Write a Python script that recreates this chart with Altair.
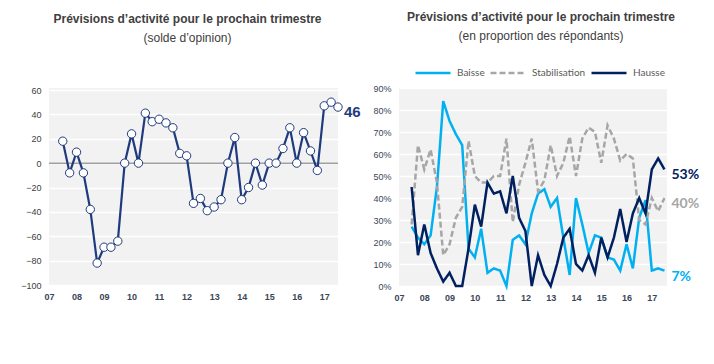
import altair as alt
import pandas as pd

# ---- data (quarterly, 2007 T3 -> 2017 T3) ----
solde = [18, -8, 9, -8, -38, -82, -69, -69, -64, 0,
         24, 0, 41, 34, 36, 33, 29, 8, 6, -33,
         -29, -39, -36, -30, 0, 21, -30, -20, 0, -18,
         0, 0, 12, 29, 0, 25, 10, -6, 47, 50, 46]
baisse = [27, 22, 19, 23, 45, 84, 75, 69, 64, 17,
          13, 26, 6, 8, 7, 0, 21, 23, 19, 33,
          42, 44, 36, 40, 22, 5, 40, 28, 15, 23,
          22, 13, 12, 7, 19, 8, 31, 39, 7, 8, 7]
stabilisation = [28, 64, 53, 62, 47, 14, 19, 31, 36, 66,
                 50, 47, 47, 50, 50, 67, 29, 46, 56, 67,
                 43, 48, 64, 50, 56, 68, 50, 67, 72, 70,
                 56, 73, 67, 57, 60, 58, 30, 28, 40, 34, 40]
hausse = [45, 14, 28, 15, 8, 2, 6, 0, 0, 17,
          37, 27, 47, 42, 43, 33, 50, 31, 25, 0,
          14, 5, 0, 10, 22, 26, 10, 7, 14, 6,
          22, 13, 22, 35, 20, 33, 40, 33, 53, 58, 53]
years = list(range(2007, 2018))
series_names = ["Baisse", "Stabilisation", "Hausse"]
series_colors = ["#00b0f0", "#a6a6a6", "#002060"]
periods = [2007.5 + 0.25 * i for i in range(len(solde))]

NAVY = "#1f3a7d"
TXT = "#404040"
AXT = "#3b4658"
FONT = "Liberation Sans"

# ---- left panel ----
df_left = pd.DataFrame({"t": periods, "v": solde})

xl = alt.X("t:Q", scale=alt.Scale(domain=[2007, 2017.5], nice=False, zero=False),
           axis=alt.Axis(values=years, labelExpr="substring(toString(datum.value), 2)",
                         title=None, grid=False, domain=False, ticks=False,
                         labelFontWeight="bold", labelColor=AXT, labelFontSize=9,
                         labelFont=FONT, labelPadding=7, labelFlush=False, labelOverlap=False))
yl = alt.Y("v:Q", scale=alt.Scale(domain=[-100, 60], nice=False, range=[197, 2]),
           axis=alt.Axis(values=list(range(-100, 61, 20)), title=None, grid=True,
                         gridColor="white", gridWidth=1.3, domain=False, ticks=False,
                         labelPadding=8, labelFontSize=9, labelColor=TXT, labelFont=FONT,
                         labelOverlap=False, labelFlush=False))

zero = alt.Chart(pd.DataFrame({"v": [0]})).mark_rule(color="#a0a0a0", strokeWidth=1.5).encode(y=yl)
line_left = alt.Chart(df_left).mark_line(
    color=NAVY, strokeWidth=2.2,
    point=alt.OverlayMarkDef(filled=True, fill="white", stroke=NAVY, strokeWidth=1, size=70, opacity=1)
).encode(x=xl, y=yl)
lab_left = alt.Chart(df_left.tail(1)).mark_text(
    align="left", baseline="middle", dx=6, dy=5, fontSize=15, fontWeight="bold",
    color=NAVY, font=FONT
).encode(x=xl, y=yl, text=alt.Text("v:Q"))

left = alt.layer(zero, line_left, lab_left).properties(
    width=289, height=197,
    title=alt.TitleParams(
        text="Prévisions d’activité pour le prochain trimestre",
        subtitle="(solde d’opinion)",
        font=FONT, subtitleFont=FONT, fontSize=12, subtitleFontSize=12,
        fontWeight="bold", color=TXT, subtitleColor=TXT,
        anchor="middle", dx=-6, offset=41, subtitlePadding=7))

# ---- right panel ----
rows = []
for name, vals in zip(series_names, [baisse, stabilisation, hausse]):
    for t, v in zip(periods, vals):
        rows.append({"t": t, "v": v, "serie": name})
df_right = pd.DataFrame(rows)

xr = alt.X("t:Q", scale=alt.Scale(domain=[2007, 2017.6], nice=False, zero=False),
           axis=alt.Axis(values=years, labelExpr="substring(toString(datum.value), 2)",
                         title=None, grid=False, domain=False, ticks=False,
                         labelFontWeight="bold", labelColor=AXT, labelFontSize=9,
                         labelFont=FONT, labelPadding=7, labelFlush=False, labelOverlap=False))
yr = alt.Y("v:Q", scale=alt.Scale(domain=[0, 90], nice=False),
           axis=alt.Axis(values=list(range(0, 91, 10)), labelExpr="datum.value + '%'",
                         title=None, grid=True, gridColor="white", gridWidth=1.3,
                         domain=False, ticks=False, labelPadding=8, labelFontSize=9,
                         labelColor=AXT, labelFont=FONT, labelOverlap=False, labelFlush=False))

legend = alt.Legend(orient="none", legendX=15, legendY=-34, direction="horizontal",
                    title=None, symbolType="stroke", symbolSize=1225, symbolStrokeWidth=2.5,
                    labelFont="Lato", labelFontSize=10, labelColor="#595959",
                    labelOffset=5, columnPadding=0, symbolOffset=0, symbolLimit=0)

lines_right = alt.Chart(df_right).mark_line(strokeWidth=2.5).encode(
    x=xr, y=yr,
    color=alt.Color("serie:N", scale=alt.Scale(domain=series_names, range=series_colors),
                    sort=series_names, legend=legend),
    strokeDash=alt.StrokeDash("serie:N", scale=alt.Scale(domain=series_names,
                              range=[[1, 0], [6, 3], [1, 0]]), sort=series_names, legend=legend),
    order=alt.Order("t:Q"),
)

end_labels = []
for name, col in zip(series_names, series_colors):
    d = df_right[df_right["serie"] == name].tail(1)
    end_labels.append(
        alt.Chart(d).transform_calculate(lab="datum.v + '%'").mark_text(
            align="left", baseline="middle", dx=7, dy=6, fontSize=14, fontWeight="bold",
            color=col, font="Lato"
        ).encode(x=xr, y=yr, text=alt.Text("lab:N"))
    )

right = alt.layer(lines_right, *end_labels).properties(
    width=268, height=198,
    title=alt.TitleParams(
        text="Prévisions d’activité pour le prochain trimestre",
        subtitle="(en proportion des répondants)",
        font=FONT, subtitleFont=FONT, fontSize=12, subtitleFontSize=12,
        fontWeight="bold", color=TXT, subtitleColor=TXT,
        anchor="middle", dx=8, offset=11, subtitlePadding=7))

chart = alt.hconcat(left, right, spacing=11).resolve_scale(
    x="independent", y="independent", color="independent", strokeDash="independent"
).resolve_legend(color="independent", strokeDash="independent").properties(
    padding={"left": 12, "top": 3, "right": 0, "bottom": 0},
    background="white",
).configure_view(stroke=None, fill="#f2f2f2").configure_axis(labelOverlap=False)

chart.save("out.html", embed_options={"renderer": "svg", "actions": False})
